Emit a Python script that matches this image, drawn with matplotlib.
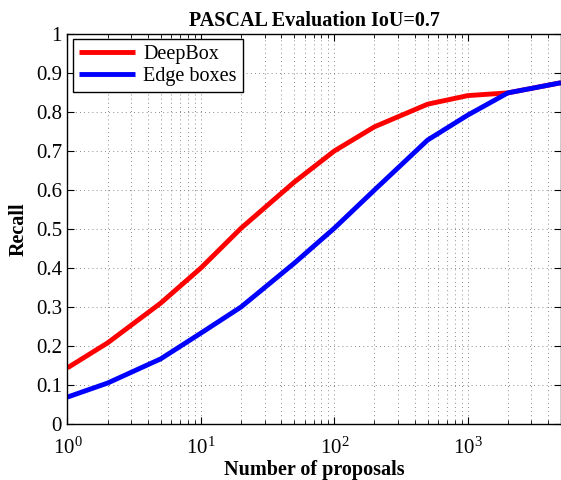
import matplotlib
matplotlib.use("Agg")
import matplotlib.pyplot as plt
from matplotlib.ticker import LogLocator, FuncFormatter, MultipleLocator, NullFormatter

plt.rcParams['font.family'] = ['Liberation Serif', 'DejaVu Serif']
plt.rcParams['mathtext.fontset'] = 'stix'

# Данные
proposals = [1, 2, 5, 10, 20, 50, 100, 200, 500, 1000, 2000, 5000]
deepbox = [0.144, 0.208, 0.31, 0.40, 0.502, 0.62, 0.70, 0.762, 0.82, 0.842, 0.849, 0.875]
edge_boxes = [0.069, 0.105, 0.167, 0.233, 0.30, 0.412, 0.502, 0.60, 0.728, 0.792, 0.849, 0.875]

title = 'PASCAL Evaluation IoU=0.7'
x_label = 'Number of proposals'
y_label = 'Recall'

fig = plt.figure(figsize=(5.61, 4.8), dpi=100)
ax = fig.add_axes([0.1203, 0.1167, 0.8797, 0.8125])

ax.plot(proposals, deepbox, color='#ff0000', lw=3.5, label='DeepBox', solid_capstyle='butt')
ax.plot(proposals, edge_boxes, color='#0000ff', lw=3.5, label='Edge boxes', solid_capstyle='butt')

ax.set_xscale('log')
ax.set_xlim(1, 5000)
ax.set_ylim(0, 1)
ax.xaxis.set_major_locator(LogLocator(base=10, numticks=10))
ax.xaxis.set_minor_locator(LogLocator(base=10, subs=range(2, 10), numticks=20))
ax.xaxis.set_minor_formatter(NullFormatter())
ax.yaxis.set_major_locator(MultipleLocator(0.1))
ax.yaxis.set_major_formatter(FuncFormatter(lambda v, p: '%g' % round(v, 1)))

ax.tick_params(which='both', direction='in', top=True, right=True, labelsize=15)
ax.tick_params(which='major', length=5, width=0.8)
ax.tick_params(which='minor', length=3, width=0.6)
ax.tick_params(axis='x', which='major', pad=10)
ax.tick_params(axis='y', which='major', pad=4)

ax.grid(True, which='major', linestyle=(0, (1, 4)), color='#666666', lw=0.6)
ax.grid(True, which='minor', axis='x', linestyle=(0, (1, 4)), color='#666666', lw=0.6)

for s in ax.spines.values():
    s.set_linewidth(1.0)

ax.set_title(title, fontsize=14.5, fontweight='bold', pad=6)
ax.set_xlabel(x_label, fontsize=14.5, fontweight='bold', labelpad=1)
ax.set_ylabel(y_label, fontsize=14.5, fontweight='bold', labelpad=5)

leg = ax.legend(loc='upper left', fontsize=14.5, handlelength=2.8, borderaxespad=0.25,
                fancybox=False, framealpha=1, edgecolor='black',
                borderpad=0.3, labelspacing=0.15, handletextpad=0.4)
leg.get_frame().set_linewidth(1.0)

fig.savefig('out.png', dpi=100)
